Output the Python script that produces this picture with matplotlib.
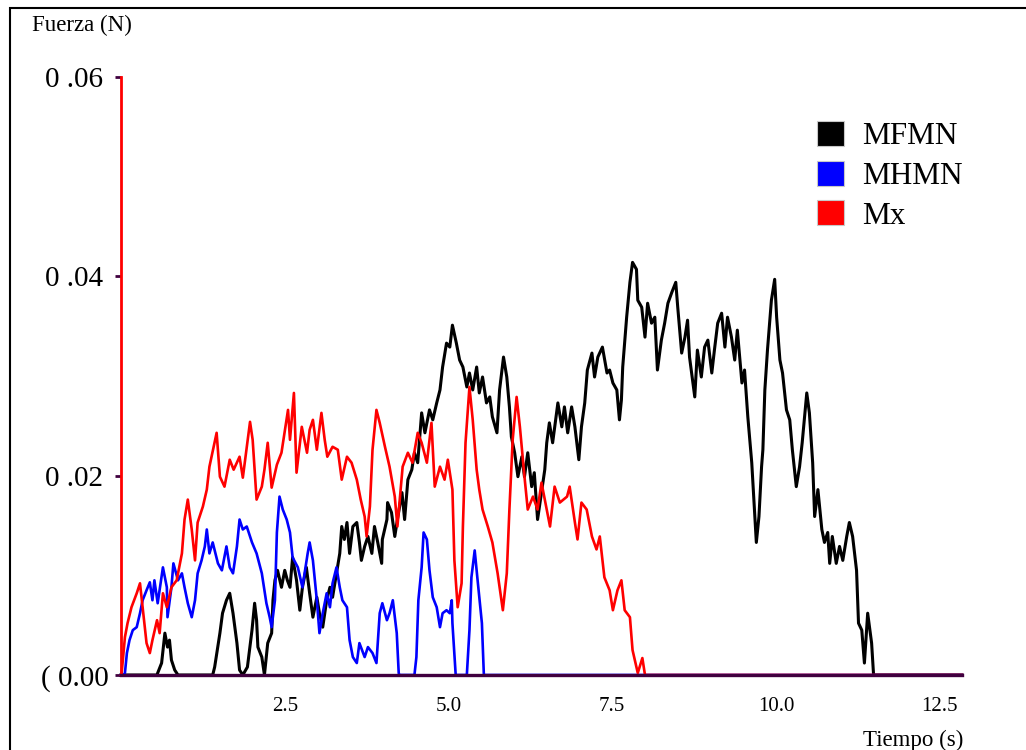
import matplotlib
matplotlib.use("Agg")
import matplotlib.pyplot as plt
from matplotlib.patches import Patch, Rectangle
from matplotlib.transforms import ScaledTranslation

plt.rcParams['font.family'] = ['Liberation Serif', 'DejaVu Serif']

# Tiempo (s) / Fuerza (N) for each muscle model
t_mfmn = [0.00, 0.55, 0.56, 0.62, 0.67, 0.71, 0.74, 0.77, 0.82, 0.87, 1.40, 1.43, 1.51, 1.55, 1.61,
          1.66, 1.71, 1.77, 1.81, 1.86, 1.93, 2.00, 2.04, 2.07, 2.09, 2.15, 2.19, 2.24, 2.30, 2.32,
          2.35, 2.39, 2.45, 2.50, 2.54, 2.58, 2.62, 2.68, 2.73, 2.77, 2.83, 2.88, 2.93, 2.99, 3.03,
          3.08, 3.14, 3.19, 3.23, 3.29, 3.34, 3.37, 3.41, 3.45, 3.49, 3.54, 3.60, 3.64, 3.67, 3.72,
          3.77, 3.83, 3.87, 3.92, 3.98, 3.99, 4.06, 4.07, 4.13, 4.18, 4.22, 4.29, 4.33, 4.38, 4.44,
          4.48, 4.53, 4.59, 4.64, 4.71, 4.76, 4.82, 4.87, 4.91, 4.97, 5.02, 5.06, 5.12, 5.17, 5.22,
          5.28, 5.32, 5.37, 5.43, 5.47, 5.52, 5.58, 5.63, 5.67, 5.74, 5.78, 5.84, 5.89, 5.93, 5.96,
          6.01, 6.06, 6.12, 6.16, 6.21, 6.27, 6.31, 6.36, 6.42, 6.47, 6.50, 6.54, 6.59, 6.67, 6.73,
          6.77, 6.82, 6.88, 6.93, 6.99, 7.03, 7.08, 7.12, 7.19, 7.23, 7.28, 7.35, 7.42, 7.46, 7.51,
          7.57, 7.61, 7.64, 7.66, 7.72, 7.77, 7.81, 7.87, 7.89, 7.95, 8.00, 8.04, 8.10, 8.15, 8.19,
          8.25, 8.30, 8.35, 8.41, 8.47, 8.50, 8.56, 8.61, 8.65, 8.68, 8.76, 8.80, 8.86, 8.91, 8.96,
          9.02, 9.06, 9.11, 9.17, 9.22, 9.26, 9.32, 9.37, 9.41, 9.48, 9.52, 9.57, 9.63, 9.66, 9.70,
          9.74, 9.78, 9.80, 9.83, 9.87, 9.93, 9.98, 10.01, 10.06, 10.10, 10.16, 10.21, 10.25, 10.31,
          10.36, 10.40, 10.47, 10.51, 10.56, 10.59, 10.64, 10.70, 10.74, 10.79, 10.82, 10.86, 10.92,
          10.97, 11.02, 11.08, 11.12, 11.17, 11.23, 11.26, 11.31, 11.35, 11.40, 11.46, 11.49, 12.84]
f_mfmn = [0.0, 0.0, 0.0002, 0.0012, 0.0042, 0.0028, 0.0035, 0.0015, 0.0005, 0.0, 0.0, 0.0008, 0.0042,
          0.0062, 0.0075, 0.0082, 0.0062, 0.0032, 0.0005, 0.0, 0.0008, 0.0045, 0.0072, 0.0055, 0.0028,
          0.0018, 0.0, 0.0032, 0.0042, 0.0075, 0.0095, 0.0105, 0.0088, 0.0105, 0.0095, 0.0088, 0.0118,
          0.0095, 0.0065, 0.0088, 0.0108, 0.0082, 0.0058, 0.0078, 0.0062, 0.0048, 0.0075, 0.0088,
          0.0078, 0.0102, 0.0122, 0.0149, 0.0136, 0.0153, 0.0122, 0.0149, 0.0153, 0.0133, 0.0115,
          0.0129, 0.0139, 0.0122, 0.0149, 0.0133, 0.0112, 0.0136, 0.0156, 0.0173, 0.0163, 0.0139,
          0.0156, 0.0183, 0.0156, 0.0196, 0.0206, 0.0223, 0.0213, 0.0263, 0.0243, 0.0266, 0.0256,
          0.0273, 0.0286, 0.0309, 0.0333, 0.0329, 0.0351, 0.0333, 0.0316, 0.0309, 0.0289, 0.0303,
          0.0286, 0.0309, 0.0283, 0.0299, 0.0273, 0.0279, 0.0259, 0.0243, 0.0286, 0.0319, 0.0299,
          0.0269, 0.0239, 0.0223, 0.0199, 0.0219, 0.0199, 0.0223, 0.0189, 0.0203, 0.0156, 0.0183,
          0.0206, 0.0233, 0.0253, 0.0233, 0.0273, 0.0249, 0.0269, 0.0243, 0.0269, 0.0249, 0.0216,
          0.0249, 0.0273, 0.0306, 0.0323, 0.0299, 0.0319, 0.0329, 0.0303, 0.0306, 0.0293, 0.0286,
          0.0256, 0.0276, 0.0309, 0.0359, 0.0394, 0.0414, 0.0407, 0.0376, 0.0369, 0.0339, 0.0373,
          0.0353, 0.0359, 0.0306, 0.0336, 0.0353, 0.0373, 0.0384, 0.0394, 0.0369, 0.0323, 0.0339,
          0.0356, 0.0319, 0.0279, 0.0326, 0.0299, 0.0329, 0.0336, 0.0303, 0.0326, 0.0353, 0.0363,
          0.0329, 0.0359, 0.0339, 0.0316, 0.0346, 0.0293, 0.0306, 0.0259, 0.0213, 0.0179, 0.0133,
          0.0159, 0.0209, 0.0226, 0.0286, 0.0326, 0.0376, 0.0397, 0.0359, 0.0316, 0.0303, 0.0266,
          0.0256, 0.0226, 0.0189, 0.0209, 0.0233, 0.0283, 0.0263, 0.0213, 0.0159, 0.0186, 0.0146,
          0.0133, 0.0143, 0.0112, 0.0139, 0.0112, 0.0129, 0.0115, 0.0139, 0.0153, 0.0139, 0.0105,
          0.0052, 0.0045, 0.0012, 0.0062, 0.0032, 0.0, 0.0]

t_mhmn = [0.00, 0.04, 0.06, 0.09, 0.13, 0.18, 0.24, 0.29, 0.33, 0.39, 0.44, 0.48, 0.51, 0.56, 0.64,
          0.70, 0.71, 0.77, 0.80, 0.87, 0.93, 0.97, 1.02, 1.08, 1.13, 1.17, 1.23, 1.28, 1.31, 1.35,
          1.40, 1.48, 1.54, 1.61, 1.66, 1.71, 1.77, 1.81, 1.86, 1.92, 2.00, 2.07, 2.15, 2.22, 2.27,
          2.30, 2.35, 2.38, 2.42, 2.47, 2.53, 2.58, 2.62, 2.70, 2.77, 2.85, 2.88, 2.93, 2.99, 3.03,
          3.08, 3.14, 3.19, 3.23, 3.29, 3.34, 3.38, 3.45, 3.49, 3.54, 3.60, 3.64, 3.72, 3.77, 3.84,
          3.90, 3.95, 3.99, 4.06, 4.10, 4.15, 4.21, 4.24, 4.25, 4.48, 4.51, 4.54, 4.59, 4.62, 4.67,
          4.71, 4.76, 4.82, 4.87, 4.91, 4.97, 5.02, 5.05, 5.06, 5.11, 5.28, 5.32, 5.35, 5.40, 5.44,
          5.51, 5.54, 12.84]
f_mhmn = [0.0, 0.0, 0.0002, 0.0022, 0.0035, 0.0045, 0.0048, 0.0062, 0.0075, 0.0085, 0.0093, 0.0075,
          0.0095, 0.0072, 0.0108, 0.0088, 0.0058, 0.0088, 0.0112, 0.0095, 0.0102, 0.0088, 0.0072,
          0.0058, 0.0075, 0.0102, 0.0115, 0.0129, 0.0146, 0.0122, 0.0133, 0.0112, 0.0105, 0.0129,
          0.0108, 0.0102, 0.0129, 0.0156, 0.0146, 0.0149, 0.0133, 0.0122, 0.0102, 0.0072, 0.0058,
          0.0048, 0.0075, 0.0143, 0.0179, 0.0166, 0.0156, 0.0143, 0.0118, 0.0108, 0.0088, 0.0122,
          0.0133, 0.0115, 0.0075, 0.0042, 0.0062, 0.0082, 0.0068, 0.0092, 0.0108, 0.0088, 0.0075,
          0.0068, 0.0035, 0.0018, 0.0012, 0.0032, 0.0018, 0.0028, 0.0022, 0.0012, 0.0062, 0.0072,
          0.0055, 0.0062, 0.0075, 0.0042, 0.0002, 0.0, 0.0, 0.0018, 0.0075, 0.0108, 0.0143, 0.0136,
          0.0105, 0.0078, 0.0068, 0.0048, 0.0062, 0.0065, 0.0062, 0.0075, 0.0052, 0.0, 0.0, 0.0045,
          0.0098, 0.0125, 0.0098, 0.0052, 0.0, 0.0]

t_mx = [0.00, 0.01, 0.06, 0.10, 0.16, 0.24, 0.29, 0.33, 0.39, 0.44, 0.48, 0.55, 0.59, 0.64, 0.70,
        0.77, 0.85, 0.93, 0.97, 1.02, 1.08, 1.13, 1.17, 1.25, 1.31, 1.35, 1.46, 1.51, 1.58, 1.66,
        1.72, 1.81, 1.86, 1.97, 2.01, 2.07, 2.15, 2.19, 2.24, 2.30, 2.38, 2.45, 2.55, 2.58, 2.64,
        2.68, 2.76, 2.84, 2.88, 2.93, 2.99, 3.06, 3.11, 3.15, 3.23, 3.31, 3.37, 3.45, 3.52, 3.60,
        3.66, 3.72, 3.75, 3.80, 3.84, 3.90, 3.95, 4.03, 4.10, 4.18, 4.22, 4.30, 4.38, 4.45, 4.53,
        4.59, 4.67, 4.74, 4.79, 4.87, 4.94, 4.99, 5.06, 5.09, 5.14, 5.20, 5.22, 5.26, 5.32, 5.37,
        5.43, 5.47, 5.52, 5.60, 5.67, 5.75, 5.83, 5.89, 5.93, 5.98, 6.04, 6.09, 6.16, 6.21, 6.29,
        6.36, 6.42, 6.50, 6.55, 6.62, 6.70, 6.81, 6.85, 6.93, 6.97, 7.03, 7.11, 7.19, 7.26, 7.31,
        7.38, 7.46, 7.51, 7.58, 7.64, 7.69, 7.77, 7.81, 7.89, 7.96, 8.00, 12.84]
f_mx = [0.0, 0.0002, 0.0038, 0.0052, 0.0068, 0.0082, 0.0092, 0.0068, 0.0032, 0.0022, 0.0035, 0.0055,
        0.0042, 0.0082, 0.0068, 0.0088, 0.0095, 0.0122, 0.0156, 0.0176, 0.0146, 0.0115, 0.0153,
        0.0169, 0.0186, 0.0209, 0.0243, 0.0199, 0.0189, 0.0216, 0.0206, 0.0219, 0.0198, 0.0254,
        0.0236, 0.0176, 0.0189, 0.0206, 0.0233, 0.0188, 0.0211, 0.0223, 0.0266, 0.0236, 0.0283,
        0.0203, 0.0249, 0.0223, 0.0246, 0.0256, 0.0226, 0.0263, 0.0236, 0.0219, 0.0229, 0.0226,
        0.0196, 0.0219, 0.0213, 0.0196, 0.0176, 0.0159, 0.0139, 0.0169, 0.0226, 0.0266, 0.0253,
        0.0229, 0.0209, 0.0179, 0.0149, 0.0209, 0.0223, 0.0213, 0.0243, 0.0233, 0.0213, 0.0253,
        0.0189, 0.0209, 0.0196, 0.0216, 0.0186, 0.0115, 0.0068, 0.0092, 0.0149, 0.0233, 0.0289,
        0.0256, 0.0206, 0.0186, 0.0166, 0.0149, 0.0133, 0.0102, 0.0065, 0.0102, 0.0166, 0.0236,
        0.0279, 0.0249, 0.0199, 0.0166, 0.0179, 0.0166, 0.0193, 0.0166, 0.0149, 0.0189, 0.0173,
        0.0179, 0.0189, 0.0153, 0.0136, 0.0173, 0.0166, 0.0139, 0.0126, 0.0139, 0.0098, 0.0085,
        0.0065, 0.0085, 0.0095, 0.0065, 0.0058, 0.0025, 0.0002, 0.0017, 0.0, 0.0]

series_names = ['MFMN', 'MHMN', 'Mx']
series_colors = ['#000000', '#0000ff', '#ff0000']
x_ticks = [2.5, 5.0, 7.5, 10.0, 12.5]
x_tick_labels = ['2.5', '5.0', '7.5', '10.0', '12.5']
y_ticks = [0.0, 0.02, 0.04, 0.06]
y_tick_labels = ['( 0.00', '0 .02', '0 .04', '0 .06']

W, H = 1026, 750
fig = plt.figure(figsize=(W / 100, H / 100), dpi=100)
fig.patch.set_facecolor('white')

# outer frame (runs past right and bottom edges)
fig.patches.append(Rectangle((9.5 / W, -0.05), 1.1, (H - 8.0) / H + 0.05,
                             transform=fig.transFigure, fill=False,
                             edgecolor='black', linewidth=1.5))

ax = fig.add_axes([121 / W, (H - 675) / H, (962 - 121) / W, (675 - 77) / H])
ax.set_xlim(0, 12.84)
ax.set_ylim(0, 0.06)

ax.plot(t_mfmn, f_mfmn, color=series_colors[0], lw=2.2, zorder=3, clip_on=False)
ax.plot(t_mhmn, f_mhmn, color=series_colors[1], lw=1.9, zorder=4, clip_on=False)
ax.plot(t_mx, f_mx, color=series_colors[2], lw=1.9, zorder=5, clip_on=False)

for side in ('top', 'right'):
    ax.spines[side].set_visible(False)
ax.spines['bottom'].set_color('#40003f')
ax.spines['bottom'].set_linewidth(2.4)
ax.spines['bottom'].set_zorder(6)
ax.spines['left'].set_color('#ff0000')
ax.spines['left'].set_linewidth(2.0)

ax.set_xticks(x_ticks)
ax.set_xticklabels(x_tick_labels, fontsize=15)
ax.tick_params(axis='x', length=0, pad=16)
ax.set_yticks(y_ticks)
ax.set_yticklabels(y_tick_labels, fontsize=21)
ax.tick_params(axis='y', length=4, width=2, color='#40003f', pad=9)

# the zero label sits a little closer to the axis
zero_lbl = ax.get_yticklabels()[0]
zero_lbl.set_transform(zero_lbl.get_transform() + ScaledTranslation(6 / 100, 0, fig.dpi_scale_trans))

fig.text(32 / W, 1 - 25 / H, 'Fuerza (N)', fontsize=16.5, ha='left', va='center')
fig.text(963 / W, 1 - 740 / H, 'Tiempo (s)', fontsize=16.5, ha='right', va='center')

handles = [Patch(facecolor=c, edgecolor='#c8c8c8', linewidth=0.8) for c in series_colors]
leg = ax.legend(handles, series_names, loc='upper left',
                bbox_to_anchor=(817 / W, 1 - 121 / H), bbox_transform=fig.transFigure,
                frameon=False, fontsize=22.5, handlelength=0.85, handleheight=0.85,
                handletextpad=0.6, labelspacing=0.3, borderaxespad=0, borderpad=0)

fig.savefig('out.png', dpi=100)
